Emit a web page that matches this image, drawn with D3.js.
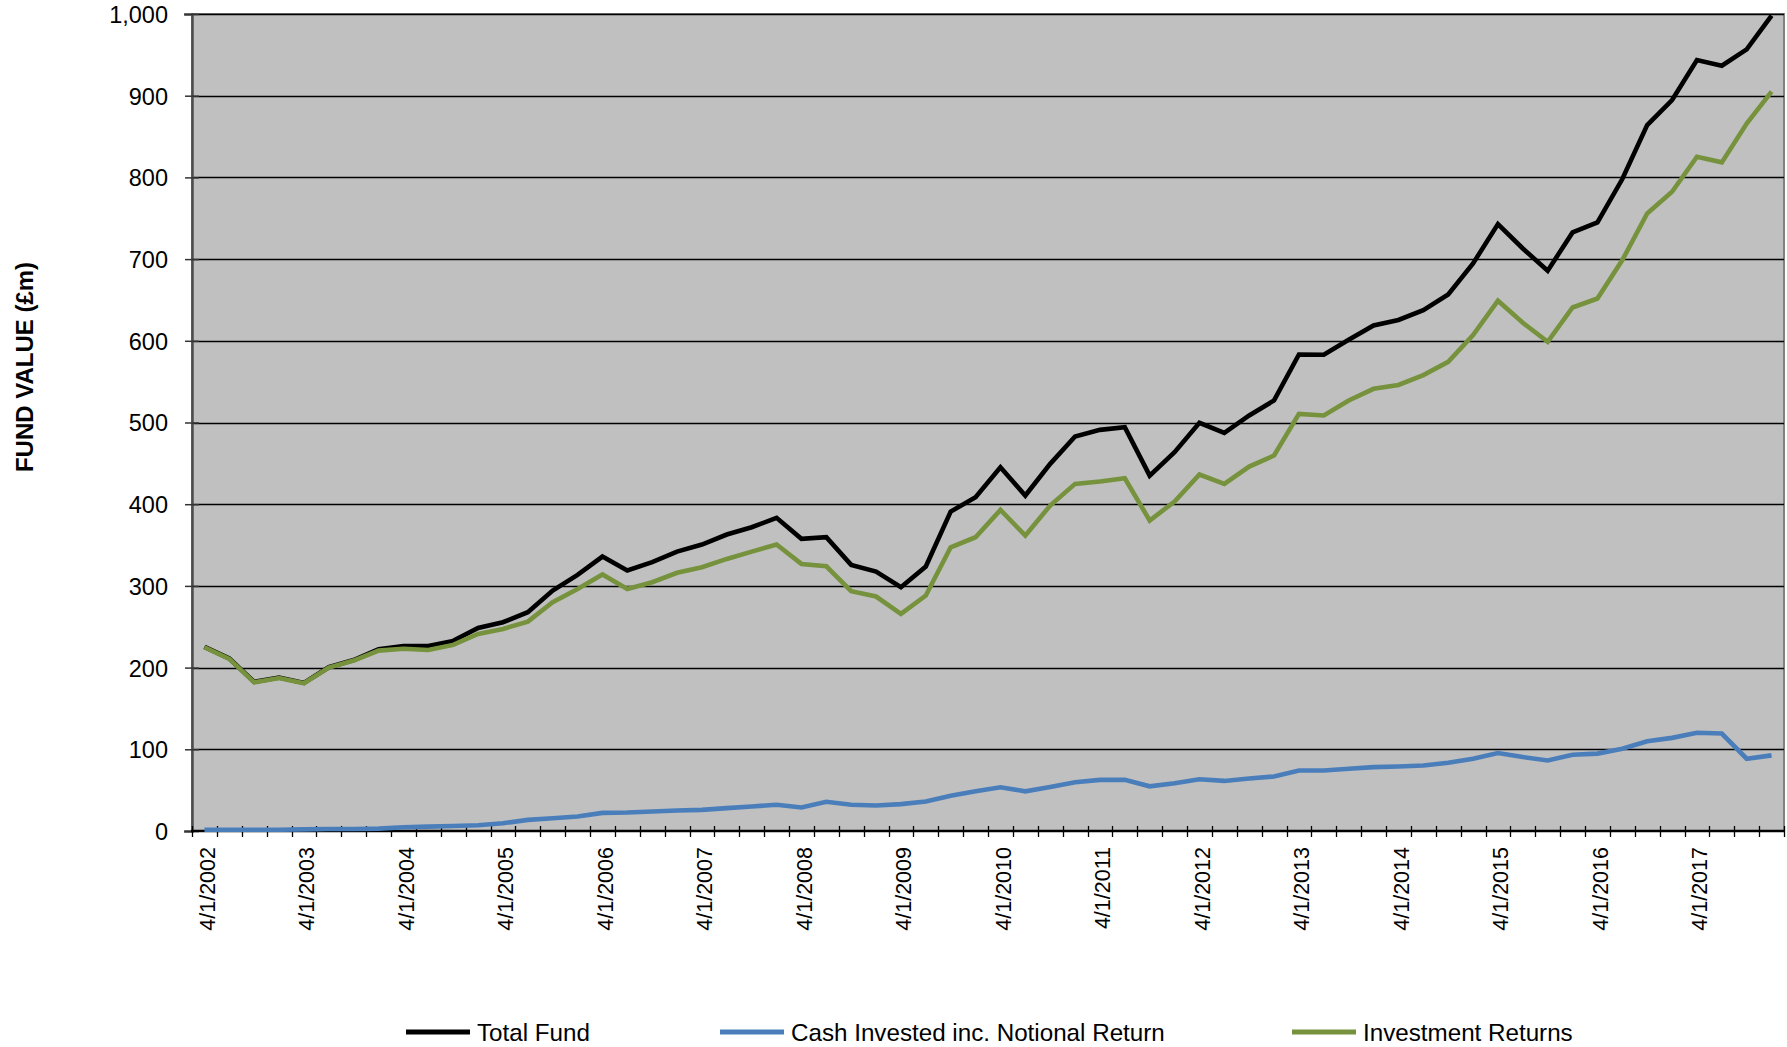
<!DOCTYPE html>
<html>
<head>
<meta charset="utf-8">
<script src="https://cdn.jsdelivr.net/npm/d3@7"></script>
<style>
  html, body { margin: 0; padding: 0; background: #ffffff; }
  svg { display: block; }
  text { font-family: "Liberation Sans", Arial, sans-serif; fill: #000; }
</style>
</head>
<body>
<svg id="chart" width="1787" height="1047"></svg>
<script>
// ---------- DATA ----------
const categories = [
  "4/1/2002","7/1/2002","10/1/2002","1/1/2003",
  "4/1/2003","7/1/2003","10/1/2003","1/1/2004",
  "4/1/2004","7/1/2004","10/1/2004","1/1/2005",
  "4/1/2005","7/1/2005","10/1/2005","1/1/2006",
  "4/1/2006","7/1/2006","10/1/2006","1/1/2007",
  "4/1/2007","7/1/2007","10/1/2007","1/1/2008",
  "4/1/2008","7/1/2008","10/1/2008","1/1/2009",
  "4/1/2009","7/1/2009","10/1/2009","1/1/2010",
  "4/1/2010","7/1/2010","10/1/2010","1/1/2011",
  "4/1/2011","7/1/2011","10/1/2011","1/1/2012",
  "4/1/2012","7/1/2012","10/1/2012","1/1/2013",
  "4/1/2013","7/1/2013","10/1/2013","1/1/2014",
  "4/1/2014","7/1/2014","10/1/2014","1/1/2015",
  "4/1/2015","7/1/2015","10/1/2015","1/1/2016",
  "4/1/2016","7/1/2016","10/1/2016","1/1/2017",
  "4/1/2017","7/1/2017","10/1/2017","1/1/2018"
];

const totalFund = [
  225.4, 211.1, 182.5, 187.8, 181.3, 200.5, 209.2, 222.4,
  226.5, 226.5, 232.7, 248.6, 255.5, 267.8, 294.3, 313.5,
  335.9, 318.8, 329, 342, 350.6, 362.9, 371.8, 383.3,
  357.6, 359.6, 325.7, 317.6, 298.4, 323.7, 391, 408.6,
  445.3, 410.6, 449.4, 482.9, 491, 494.3, 435, 463.7,
  499.6, 487.3, 508.6, 527, 583.3, 582.9, 601.2, 618.8,
  625.5, 637.6, 656.7, 694.7, 742.9, 713, 685.7, 732.7,
  745, 798, 864, 894.7, 943.7, 936.7, 956.7, 998
];

const cashInvested = [
  1.6, 1.6, 1.6, 1.6, 2, 2.5, 2.5, 2.9,
  4.5, 5.3, 6.2, 7, 9.5, 13.6, 15.6, 17.7,
  22.2, 22.6, 23.9, 25.1, 25.9, 28, 30, 32.1,
  28.8, 35.8, 32.1, 31.3, 32.9, 36.2, 43.2, 48.6,
  53.5, 48.6, 53.9, 59.7, 62.6, 62.6, 54.7, 58.4,
  63.4, 61.3, 64.2, 66.7, 74.1, 74.1, 76.1, 78.2,
  79, 80.2, 83.5, 88.5, 95.5, 90.5, 86.4, 93.4,
  94.7, 100.8, 109.9, 114, 120.2, 119.3, 88.5, 92.6
];

const investmentReturns = [
  224.9, 210.6, 182, 187.3, 180.8, 200, 208.6, 220.8,
  223, 221.6, 227.8, 241.2, 247.3, 256.3, 280, 296.3,
  314, 296.3, 304.5, 316, 322.9, 333, 342, 350.6,
  326.9, 324, 293.5, 287, 265.7, 288.2, 347.3, 359.6,
  393, 361.6, 398.4, 424.9, 427.8, 431.8, 380, 403.3,
  436.3, 424.9, 446, 459.6, 510.6, 508.6, 527, 541.2,
  546, 558, 574.3, 607, 649, 622, 598.8, 640.8,
  651.8, 698.8, 755.9, 782.4, 825.3, 818.4, 866, 904.9
];

const yTicks = [0, 100, 200, 300, 400, 500, 600, 700, 800, 900, 1000];
const xTickLabels = [
  "4/1/2002","4/1/2003","4/1/2004","4/1/2005","4/1/2006","4/1/2007","4/1/2008","4/1/2009",
  "4/1/2010","4/1/2011","4/1/2012","4/1/2013","4/1/2014","4/1/2015","4/1/2016","4/1/2017"
];

const seriesNames = ["Total Fund", "Cash Invested inc. Notional Return", "Investment Returns"];
const seriesColors = ["#000000", "#4A7EBB", "#76923C"];

// ---------- LAYOUT ----------
const plot = { left: 192, right: 1784, top: 14, bottom: 831 };

const svg = d3.select("#chart");

const x = d3.scaleBand()
  .domain(categories)
  .range([plot.left, plot.right])
  .paddingInner(0).paddingOuter(0);

const y = d3.scaleLinear()
  .domain([0, 1000])
  .range([plot.bottom, plot.top]);

// Plot background
svg.append("rect")
  .attr("x", plot.left).attr("y", plot.top)
  .attr("width", plot.right - plot.left)
  .attr("height", plot.bottom - plot.top)
  .attr("fill", "#C0C0C0")
  .attr("stroke", "#808080")
  .attr("stroke-width", 2);

// Gridlines
svg.append("g")
  .selectAll("line")
  .data(yTicks.filter(d => d > 0))
  .join("line")
  .attr("x1", plot.left).attr("x2", plot.right)
  .attr("y1", d => Math.round(y(d)) + 0.5)
  .attr("y2", d => Math.round(y(d)) + 0.5)
  .attr("stroke", "#000")
  .attr("stroke-width", 1.3);

// Y axis
const yAxis = d3.axisLeft(y)
  .tickValues(yTicks)
  .tickFormat(d3.format(","))
  .tickSize(8)
  .tickPadding(14);

const yg = svg.append("g")
  .attr("transform", `translate(${plot.left},0)`)
  .call(yAxis);
yg.select(".domain").attr("stroke", "#4d4d4d").attr("stroke-width", 2.5);
yg.selectAll(".tick line").attr("x2", 7).attr("x1", -7).attr("stroke", "#333").attr("stroke-width", 1.5);
yg.selectAll(".tick text")
  .attr("font-size", 23.5)
  .attr("font-family", "'Liberation Sans', Arial, sans-serif")
  .attr("fill", "#000")
  .attr("x", -24)
  .attr("dy", "0.36em");

// X axis line
svg.append("line")
  .attr("x1", plot.left - 1).attr("x2", plot.right)
  .attr("y1", plot.bottom).attr("y2", plot.bottom)
  .attr("stroke", "#000").attr("stroke-width", 2.5);

// X tick marks at category boundaries (cross style)
const boundaries = categories.map(c => x(c)).concat([plot.right]);
svg.append("g")
  .selectAll("line")
  .data(boundaries)
  .join("line")
  .attr("x1", d => Math.round(d) + 0.5).attr("x2", d => Math.round(d) + 0.5)
  .attr("y1", plot.bottom - 5).attr("y2", plot.bottom + 6)
  .attr("stroke", "#000").attr("stroke-width", 1.3);

// X tick labels (rotated)
svg.append("g")
  .selectAll("text")
  .data(xTickLabels)
  .join("text")
  .attr("transform", d => `translate(${x(d) + x.bandwidth() / 2 + 3},${plot.bottom + 16}) rotate(-90)`)
  .attr("text-anchor", "end")
  .attr("dy", "0.35em")
  .attr("font-size", 21.5)
  .text(d => d);

// Lines
const seriesData = [totalFund, cashInvested, investmentReturns];
const line = d3.line()
  .x((d, i) => x(categories[i]) + x.bandwidth() / 2)
  .y(d => y(d))
  .curve(d3.curveLinear);

// draw order: total, cash, investment (investment on top)
seriesData.forEach((vals, si) => {
  svg.append("path")
    .datum(vals)
    .attr("fill", "none")
    .attr("stroke", seriesColors[si])
    .attr("stroke-width", 4.6)
    .attr("stroke-linejoin", "miter")
    .attr("stroke-miterlimit", 3)
    .attr("d", line);
});

// Y axis title
svg.append("text")
  .attr("transform", "translate(25,367) rotate(-90)")
  .attr("text-anchor", "middle")
  .attr("dy", "0.35em")
  .attr("font-size", 24)
  .attr("font-weight", "bold")
  .text("FUND VALUE (£m)");

// Legend
const legendItems = [
  { name: seriesNames[0], color: seriesColors[0], x0: 406 },
  { name: seriesNames[1], color: seriesColors[1], x0: 720 },
  { name: seriesNames[2], color: seriesColors[2], x0: 1292 }
];
const lg = svg.append("g");
legendItems.forEach(it => {
  lg.append("line")
    .attr("x1", it.x0).attr("x2", it.x0 + 64)
    .attr("y1", 1032).attr("y2", 1032)
    .attr("stroke", it.color).attr("stroke-width", 5);
  lg.append("text")
    .attr("x", it.x0 + 71)
    .attr("y", 1032)
    .attr("dy", "0.36em")
    .attr("font-size", 24.2)
    .text(it.name);
});
</script>
</body>
</html>
